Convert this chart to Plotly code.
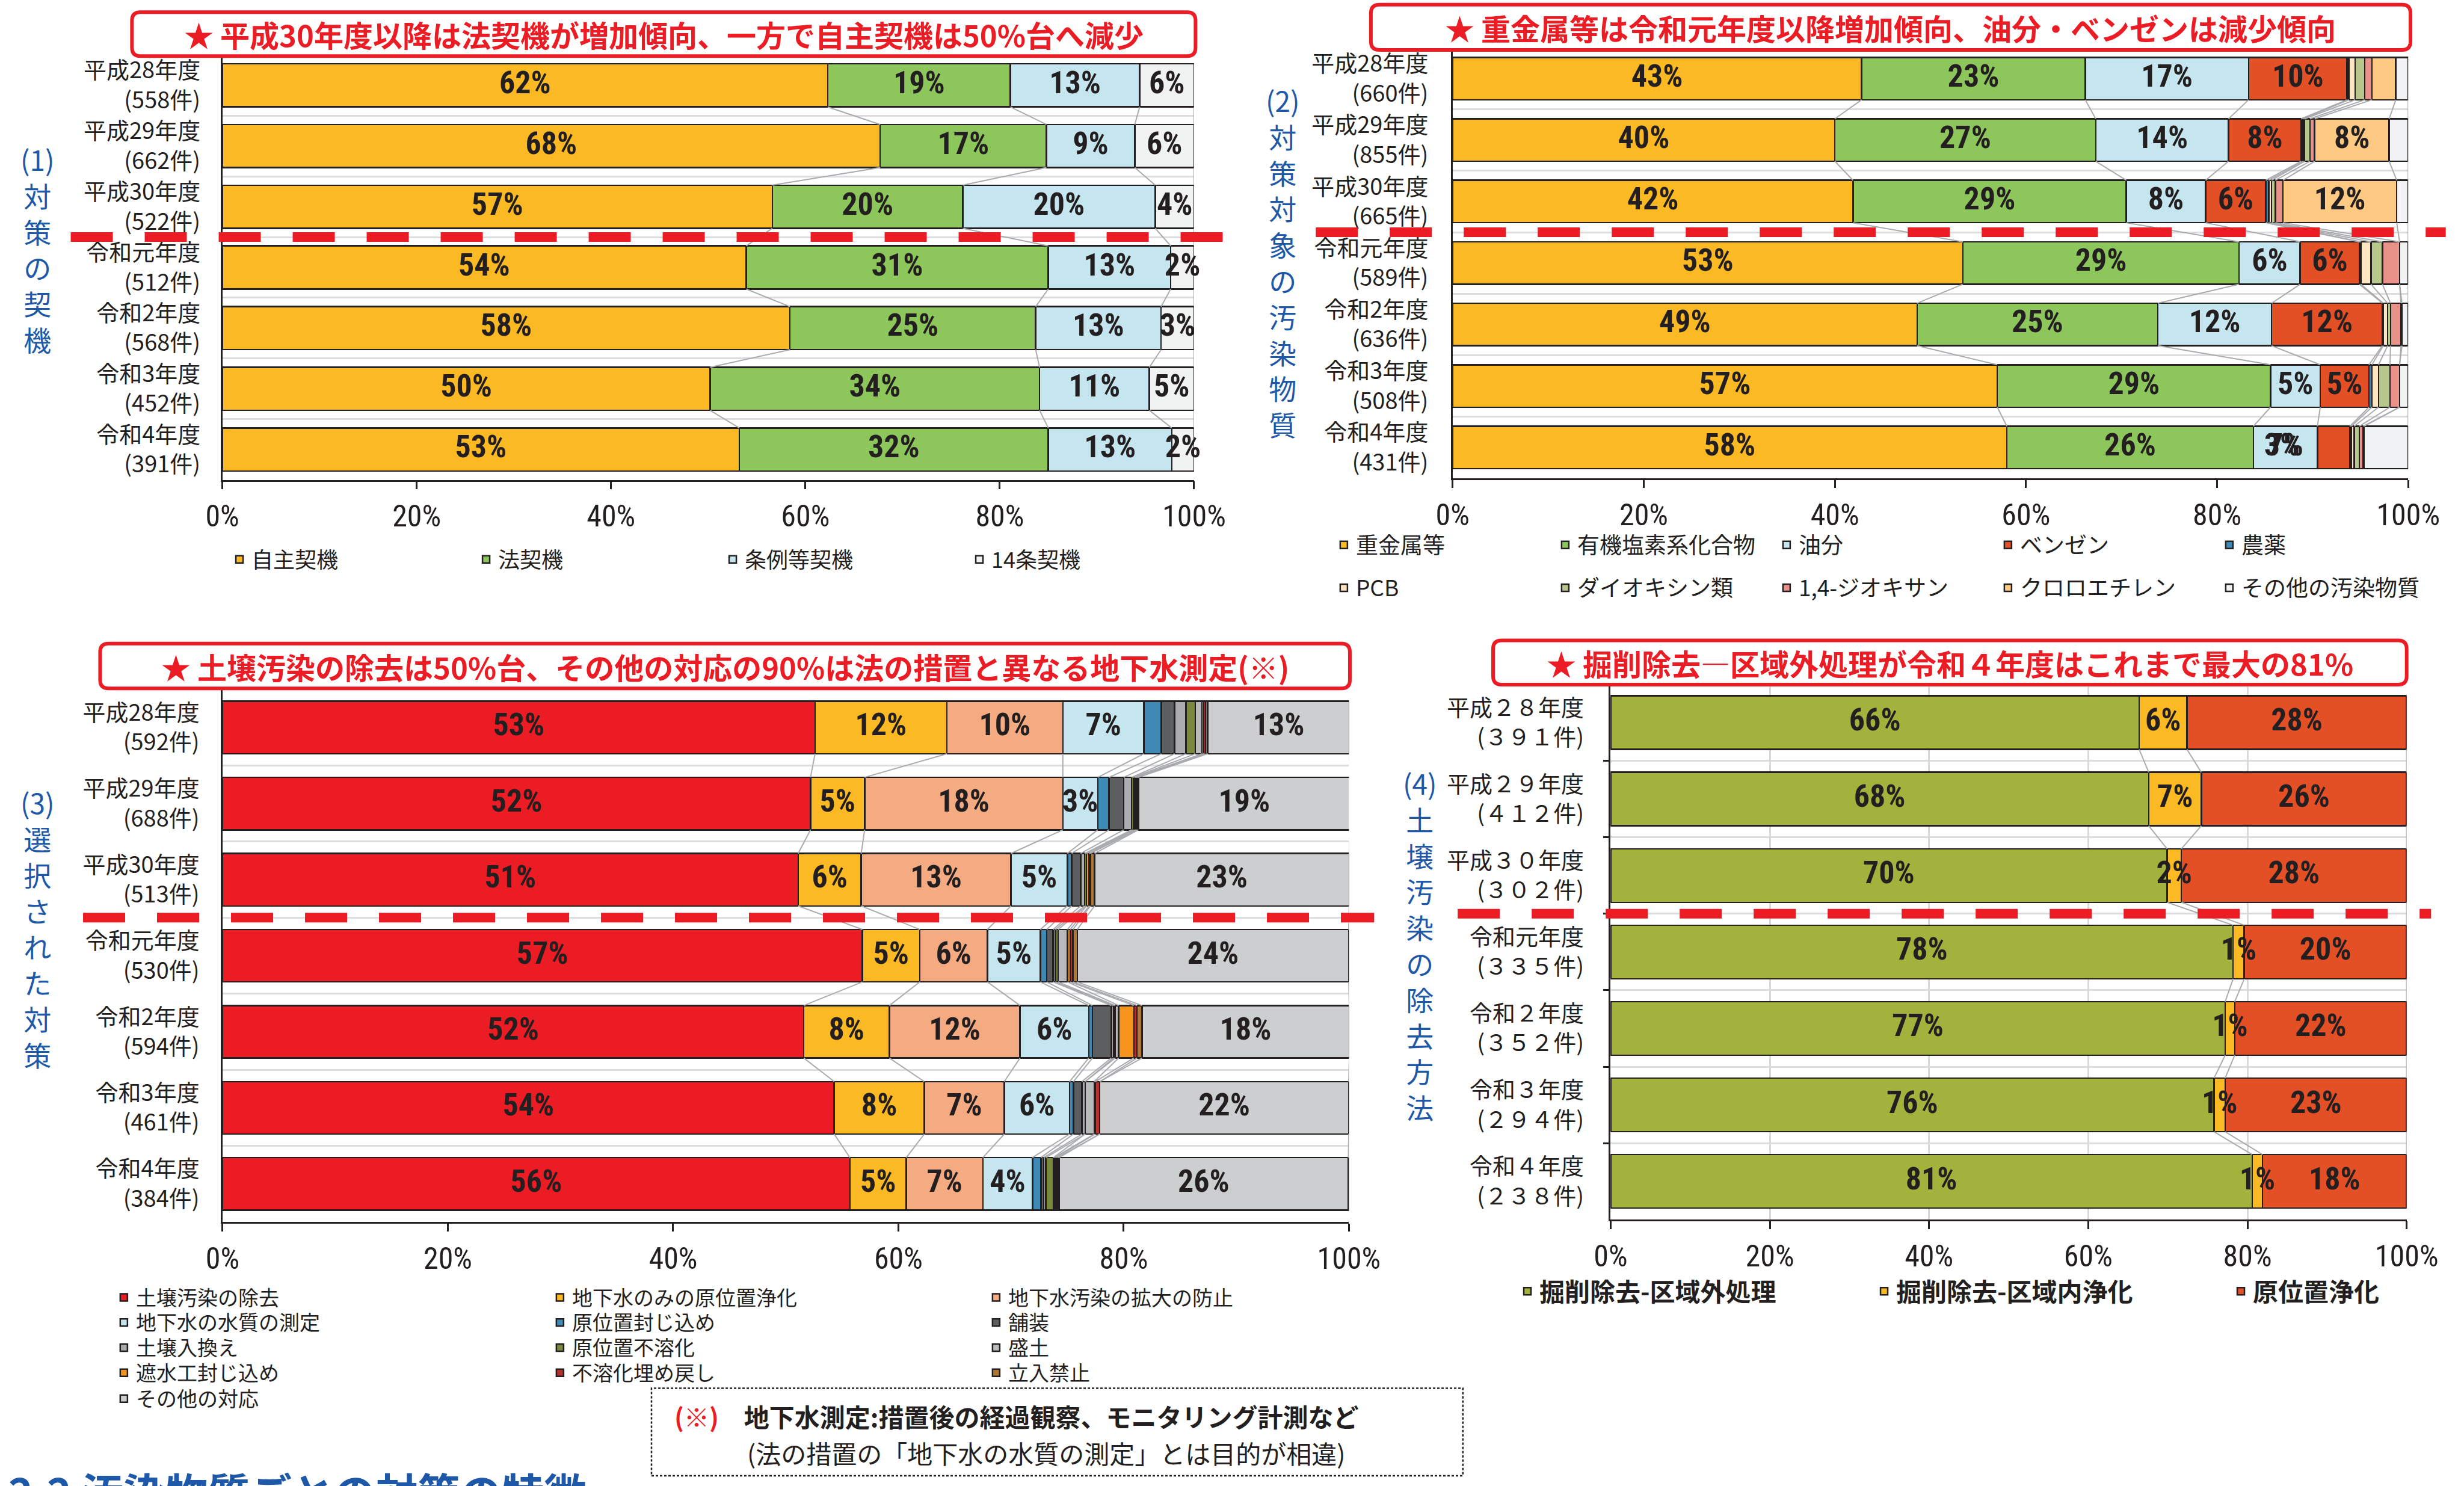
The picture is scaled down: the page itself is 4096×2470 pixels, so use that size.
import plotly.graph_objects as go

# ---------------- data ----------------
YEARS = ["平成28年度", "平成29年度", "平成30年度", "令和元年度", "令和2年度", "令和3年度", "令和4年度"]

# (1) 対策の契機
P1_COUNTS = [558, 662, 522, 512, 568, 452, 391]
P1_NAMES = ["自主契機", "法契機", "条例等契機", "14条契機"]
P1_JISHU = [62.3, 67.7, 56.6, 53.9, 58.4, 50.2, 53.2]
P1_HOU = [18.8, 17.1, 19.6, 31.1, 25.3, 33.9, 31.8]
P1_JOREI = [13.3, 9.1, 19.8, 12.6, 12.9, 11.3, 12.7]
P1_14JO = [5.6, 6.1, 4.0, 2.4, 3.4, 4.6, 2.3]

# (2) 対策対象の汚染物質
P2_COUNTS = [660, 855, 665, 589, 636, 508, 431]
P2_NAMES = ["重金属等", "有機塩素系化合物", "油分", "ベンゼン", "農薬", "PCB",
            "ダイオキシン類", "1,4-ジオキサン", "クロロエチレン", "その他の汚染物質"]
P2_HEAVY = [42.8, 40.0, 41.9, 53.4, 48.6, 57.0, 58.0]
P2_ORGCL = [23.4, 27.3, 28.6, 28.9, 25.2, 28.6, 25.8]
P2_OIL = [17.1, 13.9, 8.3, 6.4, 11.9, 5.2, 6.7]
P2_BENZENE = [10.3, 7.6, 6.3, 6.2, 11.6, 5.1, 3.4]
P2_PESTICIDE = [0.2, 0.2, 0.3, 0.15, 0.1, 0.3, 0.15]
P2_PCB = [0.66, 0.17, 0.3, 1.05, 0.45, 0.7, 0.3]
P2_DIOXIN = [1.0, 0.54, 0.4, 1.2, 0.3, 1.2, 0.55]
P2_DIOXANE = [0.74, 0.5, 0.8, 1.8, 1.1, 1.0, 0.4]
P2_CHLOROETHYLENE = [2.5, 7.8, 11.9, 0.0, 0.1, 0.0, 0.1]
P2_OTHER = [1.3, 2.0, 1.2, 0.9, 0.65, 0.9, 4.6]

# (3) 選択された対策
P3_COUNTS = [592, 688, 513, 530, 594, 461, 384]
P3_NAMES = ["土壌汚染の除去", "地下水のみの原位置浄化", "地下水汚染の拡大の防止",
            "地下水の水質の測定", "原位置封じ込め", "舗装",
            "土壌入換え", "原位置不溶化", "盛土",
            "遮水工封じ込め", "不溶化埋め戻し", "立入禁止",
            "その他の対応"]
P3_REMOVAL = [52.6, 52.2, 51.1, 56.8, 51.6, 54.3, 55.7]
P3_GW_INSITU = [11.7, 4.8, 5.6, 5.1, 7.6, 8.0, 5.0]
P3_GW_SPREAD = [10.3, 17.6, 13.3, 6.0, 11.6, 7.1, 6.8]
P3_GW_MONITOR = [7.2, 3.1, 5.0, 4.7, 6.1, 5.8, 4.4]
P3_CONTAIN = [1.55, 1.0, 0.38, 0.57, 0.33, 0.34, 0.75]
P3_PAVING = [1.18, 1.3, 0.8, 0.57, 1.68, 0.75, 0.25]
P3_REPLACE = [1.0, 0.7, 0.36, 0.2, 0.2, 0.29, 0.2]
P3_INSOLUBLE = [0.83, 0.15, 0.15, 0.24, 0.15, 0.0, 0.65]
P3_EMBANK = [0.6, 0.15, 0.0, 0.84, 0.3, 0.8, 0.1]
P3_BARRIER = [0.15, 0.1, 0.25, 0.24, 1.34, 0.1, 0.15]
P3_BACKFILL = [0.15, 0.1, 0.1, 0.24, 0.29, 0.4, 0.15]
P3_NOENTRY = [0.2, 0.1, 0.38, 0.38, 0.44, 0.0, 0.1]
P3_OTHER = [12.6, 18.8, 22.6, 24.1, 18.4, 22.1, 25.7]

# (4) 土壌汚染の除去方法
P4_COUNTS = [391, 412, 302, 335, 352, 294, 238]
P4_NAMES = ["掘削除去-区域外処理", "掘削除去-区域内浄化", "原位置浄化"]
P4_OFFSITE = [66.4, 67.6, 69.9, 78.2, 77.2, 75.8, 80.6]
P4_ONSITE = [6.0, 6.6, 1.8, 1.4, 1.2, 1.4, 1.3]
P4_INSITU = [27.6, 25.8, 28.3, 20.4, 21.6, 22.8, 18.1]

X_TICKS = [0, 20, 40, 60, 80, 100]

TITLES = ["★ 平成30年度以降は法契機が増加傾向、一方で自主契機は50%台へ減少",
          "★ 重金属等は令和元年度以降増加傾向、油分・ベンゼンは減少傾向",
          "★ 土壌汚染の除去は50%台、その他の対応の90%は法の措置と異なる地下水測定(※)",
          "★ 掘削除去―区域外処理が令和４年度はこれまで最大の81%"]
SIDE_LABELS = ["(1)対策の契機", "(2)対策対象の汚染物質", "(3)選択された対策", "(4)土壌汚染の除去方法"]
NOTE_1 = "地下水測定:措置後の経過観察、モニタリング計測など"
NOTE_2 = "(法の措置の「地下水の水質の測定」とは目的が相違)"
HEADING = "2.2 汚染物質ごとの対策の特徴"

# ---------------- styles ----------------
INK = "#231F20"
RED = "#EC1C24"
BLUE = "#1E58A8"
FONT_JP = "Noto Sans CJK JP"
FONT_NUM = "Roboto Condensed, Noto Sans CJK JP"
W, H = 4096, 2470

P1_COLORS = ["#FBB923", "#8DC75B", "#C5E6EE", "#F1F2F2"]
P2_COLORS = ["#FBB923", "#8DC75B", "#C5E6EE", "#E35026", "#3F89B5", "#FEE6C3",
             "#B7C68B", "#E8928A", "#FDC983", "#F1F2F4"]
P3_COLORS = ["#EC1C24", "#FBB923", "#F4AB82", "#C5E6EE", "#3F89B5", "#5D5E60",
             "#ABADB0", "#7B893C", "#B9BABC", "#F7941D", "#B2312C", "#B07732", "#CDCED0"]
P4_COLORS = ["#A2B23C", "#FBB923", "#E35026"]


def full_width(s):
    return s.translate(str.maketrans("0123456789", "０１２３４５６７８９"))


PANELS = [
    dict(names=P1_NAMES, values=[P1_JISHU, P1_HOU, P1_JOREI, P1_14JO], colors=P1_COLORS,
         counts=P1_COUNTS, fw=False, labelled={0, 1, 2, 3}, min_label=0,
         legends=["legend"] * 4, shift={}),
    dict(names=P2_NAMES, values=[P2_HEAVY, P2_ORGCL, P2_OIL, P2_BENZENE, P2_PESTICIDE, P2_PCB,
                                 P2_DIOXIN, P2_DIOXANE, P2_CHLOROETHYLENE, P2_OTHER],
         colors=P2_COLORS, counts=P2_COUNTS, fw=False, labelled={0, 1, 2, 3, 8}, min_label=3,
         legends=["legend2"] * 5 + ["legend3"] * 5, shift={(3, 6): -5.4}),
    dict(names=P3_NAMES, values=[P3_REMOVAL, P3_GW_INSITU, P3_GW_SPREAD, P3_GW_MONITOR, P3_CONTAIN,
                                 P3_PAVING, P3_REPLACE, P3_INSOLUBLE, P3_EMBANK, P3_BARRIER,
                                 P3_BACKFILL, P3_NOENTRY, P3_OTHER],
         colors=P3_COLORS, counts=P3_COUNTS, fw=False, labelled={0, 1, 2, 3, 12}, min_label=0,
         legends=["legend4"] * 3 + ["legend5"] * 3 + ["legend6"] * 3 + ["legend7"] * 3 + ["legend8"],
         shift={}),
    dict(names=P4_NAMES, values=[P4_OFFSITE, P4_ONSITE, P4_INSITU], colors=P4_COLORS,
         counts=P4_COUNTS, fw=True, labelled={0, 1, 2}, min_label=0,
         legends=["legend9"] * 3, shift={}),
]

GEOM = [
    dict(xd=[0.09023, 0.48461], yd=[0.67707, 0.96298], bw=0.71, standoff=26, grid_x=False, yticks=False,
         box=[0.05356, 0.96226, 0.48520, 0.99182], dash=[0.0287, 0.4974],
         side=(0.01534, 0.8325)),
    dict(xd=[0.58954, 0.97735], yd=[0.67822, 0.96781], bw=0.69, standoff=30, grid_x=False, yticks=False,
         box=[0.55637, 0.96644, 0.97828, 0.99686], dash=[0.5340, 0.9926],
         side=(0.5206, 0.8239)),
    dict(xd=[0.09033, 0.54746], yd=[0.17773, 0.53599], bw=0.69, standoff=28, grid_x=False, yticks=False,
         box=[0.04063, 0.53670, 0.54784, 0.56687], dash=[0.0337, 0.5577],
         side=(0.01534, 0.3754)),
    dict(xd=[0.65365, 0.97673], yd=[0.17925, 0.53945], bw=0.70, standoff=34, grid_x=True, yticks=True,
         box=[0.60596, 0.53931, 0.97673, 0.56907], dash=[0.5916, 0.9866],
         side=(0.5763, 0.3645)),
]

fig = go.Figure()
layout = dict(width=W, height=H, margin=dict(l=0, r=0, t=0, b=0, autoexpand=False),
              paper_bgcolor="white", plot_bgcolor="white", barmode="stack",
              hovermode=False, showlegend=True, shapes=[], annotations=[])

n = len(YEARS)
ypos = list(range(n))
split_index = YEARS.index("令和元年度")

for p, (P, G) in enumerate(zip(PANELS, GEOM)):
    sfx = "" if p == 0 else str(p + 1)
    xa, ya = "x" + sfx, "y" + sfx
    bw = G["bw"]
    cum = [0.0] * n
    ends_all = []
    lx, ly, lt = [], [], []
    for s, (name, vals, col, leg) in enumerate(zip(P["names"], P["values"], P["colors"], P["legends"])):
        fig.add_trace(go.Bar(
            orientation="h", x=vals, y=ypos, name=name, xaxis=xa, yaxis=ya, width=bw,
            marker=dict(color=col, line=dict(color=INK, width=2.5)),
            legend=leg, showlegend=True, textposition="none"))
        for i, v in enumerate(vals):
            if s in P["labelled"] and v >= P["min_label"]:
                lx.append(cum[i] + v / 2 + P["shift"].get((s, i), 0.0))
                ly.append(i)
                lt.append(f"{round(v)}%")
        cum = [c + v for c, v in zip(cum, vals)]
        ends_all.append(cum[:])

    # series lines connecting the stacked boundaries of neighbouring bars
    sx, sy = [], []
    for ends in ends_all:
        for i in range(n - 1):
            sx += [ends[i], ends[i + 1], None]
            sy += [i + bw / 2, i + 1 - bw / 2, None]
    fig.add_trace(go.Scatter(x=sx, y=sy, mode="lines", xaxis=xa, yaxis=ya,
                             line=dict(color="#A9ABAE", width=2), showlegend=False,
                             hoverinfo="skip"))
    # data labels
    fig.add_trace(go.Scatter(x=lx, y=ly, text=lt, mode="text", xaxis=xa, yaxis=ya,
                             textposition="middle center", cliponaxis=False,
                             textfont=dict(family=FONT_NUM, size=52, color=INK, weight="bold"),
                             showlegend=False, hoverinfo="skip"))

    conv = full_width if P["fw"] else (lambda t: t)
    ticktext = [f"{conv(y)}<br>({conv(str(c))}件)" for y, c in zip(YEARS, P["counts"])]

    layout["xaxis" + sfx] = dict(
        domain=G["xd"], anchor=ya, range=[0, 100], tickvals=X_TICKS,
        ticktext=[f"{t}%" for t in X_TICKS], ticks="outside", ticklen=13, tickwidth=2.5,
        tickcolor=INK, showline=True, linecolor=INK, linewidth=2.5, zeroline=False,
        showgrid=G["grid_x"], gridcolor="#D9DADC", gridwidth=2.5, fixedrange=True,
        ticklabelstandoff=2, automargin=False,
        tickfont=dict(family=FONT_NUM, size=50, color=INK))
    minor = dict(tickvals=[i + 0.5 for i in range(n - 1)], showgrid=True,
                 gridcolor="#DCDDDE", gridwidth=3)
    if G["yticks"]:
        minor.update(ticks="outside", ticklen=10, tickwidth=2.5, tickcolor=INK)
    layout["yaxis" + sfx] = dict(
        domain=G["yd"], anchor=xa, range=[n - 0.5, -0.5], tickvals=ypos, ticktext=ticktext,
        ticks="", showline=True, linecolor=INK, linewidth=2.5, zeroline=False,
        showgrid=False, minor=minor, fixedrange=True, ticklabelstandoff=G["standoff"],
        automargin=False, tickfont=dict(family=FONT_JP, size=38, color=INK))

    # red dashed divider between 平成 and 令和
    layout["shapes"].append(dict(
        type="line", xref="paper", yref=ya, x0=G["dash"][0], x1=G["dash"][1],
        y0=split_index - 0.5, y1=split_index - 0.5,
        line=dict(color=RED, width=16, dash="70px,53px"), layer="above"))

    # rounded title box
    x0, y0, x1, y1 = G["box"]
    rx, ry = 14 / W, 14 / H
    path = (f"M{x0 + rx},{y0} L{x1 - rx},{y0} Q{x1},{y0} {x1},{y0 + ry} L{x1},{y1 - ry} "
            f"Q{x1},{y1} {x1 - rx},{y1} L{x0 + rx},{y1} Q{x0},{y1} {x0},{y1 - ry} "
            f"L{x0},{y0 + ry} Q{x0},{y0} {x0 + rx},{y0} Z")
    layout["shapes"].append(dict(type="path", path=path, xref="paper", yref="paper",
                                 line=dict(color=RED, width=6), fillcolor="white", layer="above"))
    layout["annotations"].append(dict(
        text=f"<b>{TITLES[p]}</b>", x=(x0 + x1) / 2, y=(y0 + y1) / 2, xref="paper", yref="paper",
        xanchor="center", yanchor="middle", showarrow=False,
        font=dict(family=FONT_JP, size=49, color=RED)))

    # vertical side label
    side = SIDE_LABELS[p]
    head, body = side[:3], side[3:]
    layout["annotations"].append(dict(
        text="<br>".join([head] + list(body)), x=G["side"][0], y=G["side"][1],
        xref="paper", yref="paper", xanchor="center", yanchor="middle", showarrow=False,
        align="center", font=dict(family=FONT_JP, size=46, color=BLUE)))

# legends
leg_common = dict(orientation="h", xanchor="left", yanchor="middle", bgcolor="rgba(0,0,0,0)",
                  borderwidth=0, traceorder="normal", entrywidthmode="pixels")
layout["legend"] = dict(leg_common, x=0.0923, y=0.6235, entrywidth=365,
                        font=dict(family=FONT_JP, size=36, color=INK))
layout["legend2"] = dict(leg_common, x=0.5405, y=0.6331, entrywidth=323,
                         font=dict(family=FONT_JP, size=37, color=INK))
layout["legend3"] = dict(leg_common, x=0.5405, y=0.6043, entrywidth=323,
                         font=dict(family=FONT_JP, size=37, color=INK))
for k, yy in zip(range(4, 9), [0.12679, 0.10989, 0.09300, 0.07610, 0.05866]):
    layout[f"legend{k}"] = dict(leg_common, x=0.04538, y=yy, entrywidth=680,
                                font=dict(family=FONT_JP, size=34, color=INK))
layout["legend9"] = dict(leg_common, x=0.6150, y=0.1310, entrywidth=548,
                         font=dict(family=FONT_JP, size=42, color=INK, weight="bold"))

# footnote box
layout["shapes"].append(dict(type="rect", xref="paper", yref="paper", x0=0.2644, x1=0.5937,
                             y0=0.00686, y1=0.06575, line=dict(color=INK, width=2.5, dash="4px,3px")))
layout["annotations"].append(dict(
    text=f"<b><span style='color:{RED}'>(※)</span>　{NOTE_1}</b>", x=0.2731, y=0.0472,
    xref="paper", yref="paper", xanchor="left", yanchor="middle", showarrow=False,
    font=dict(family=FONT_JP, size=42, color=INK)))
layout["annotations"].append(dict(
    text=NOTE_2, x=0.3027, y=0.02266, xref="paper", yref="paper", xanchor="left",
    yanchor="middle", showarrow=False, font=dict(family=FONT_JP, size=42, color=INK)))
# clipped section heading at the bottom edge
layout["annotations"].append(dict(
    text=f"<b>{HEADING}</b>", x=0.003, y=0.0178, xref="paper", yref="paper",
    xanchor="left", yanchor="top", showarrow=False,
    font=dict(family=FONT_JP, size=70, color=BLUE)))

fig.update_layout(**layout)
fig.write_html("out.html", post_script="document.body.style.margin='0';")
